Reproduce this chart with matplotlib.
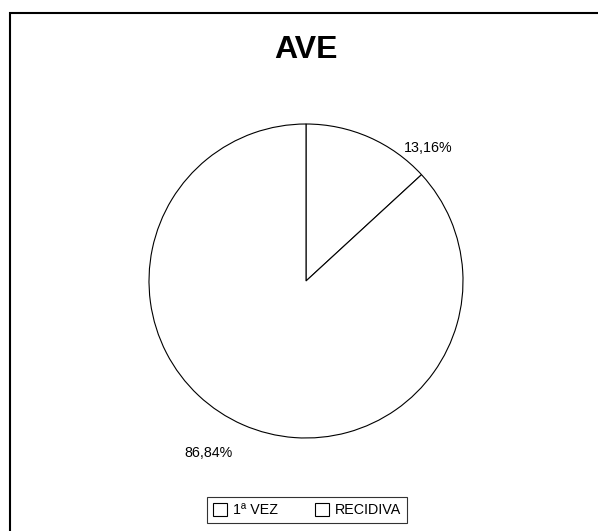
import matplotlib
matplotlib.use("Agg")
import matplotlib.pyplot as plt
from matplotlib.patches import Patch, Rectangle

# data
categories = ['1ª VEZ', 'RECIDIVA']
values = [13.16, 86.84]
pct_labels = ['13,16%', '86,84%']
title = 'AVE'

plt.rcParams['font.family'] = ['Liberation Sans', 'DejaVu Sans']

W, H = 598, 531
fig = plt.figure(figsize=(W / 100, H / 100), dpi=100)

# frame around the whole chart (runs off the right/bottom edge)
fig.patches.append(Rectangle((10 / W, -0.1), 1.2, 1 - 13 / H + 0.1,
                             transform=fig.transFigure, fill=False,
                             edgecolor='black', linewidth=1.5))

# pie axes: centre (306, 281) px, radius 157 px
L = 1.2
half = 157 * L
ax = fig.add_axes([(306 - half) / W, (H - 281 - half) / H, 2 * half / W, 2 * half / H])
wedges, _ = ax.pie(values, startangle=90, counterclock=False,
                   colors=['white', 'white'],
                   wedgeprops=dict(edgecolor='black', linewidth=0.8))
ax.set_xlim(-L, L)
ax.set_ylim(-L, L)
ax.set_aspect('auto')
ax.axis('off')

# percentage labels
label_pos = [(0.777, 0.847), (-0.618, -1.096)]
for txt, (x, y) in zip(pct_labels, label_pos):
    ax.text(x, y, txt, ha='center', va='center', fontsize=10.3)

fig.text(306 / W, 1 - 50 / H, title, ha='center', va='center',
         fontsize=23, fontweight='bold')

handles = [Patch(facecolor='white', edgecolor='black', linewidth=0.8, label=c)
           for c in categories]
leg = fig.legend(handles=handles, loc='center', bbox_to_anchor=(307 / W, 1 - 510 / H),
                 ncol=2, frameon=True, fancybox=False, fontsize=10.3,
                 handlelength=1.0, handleheight=1.0, handletextpad=0.4,
                 columnspacing=2.6, borderpad=0.4, borderaxespad=0)
leg.get_frame().set_edgecolor('black')
leg.get_frame().set_linewidth(0.8)

fig.savefig('out.png', dpi=100)
